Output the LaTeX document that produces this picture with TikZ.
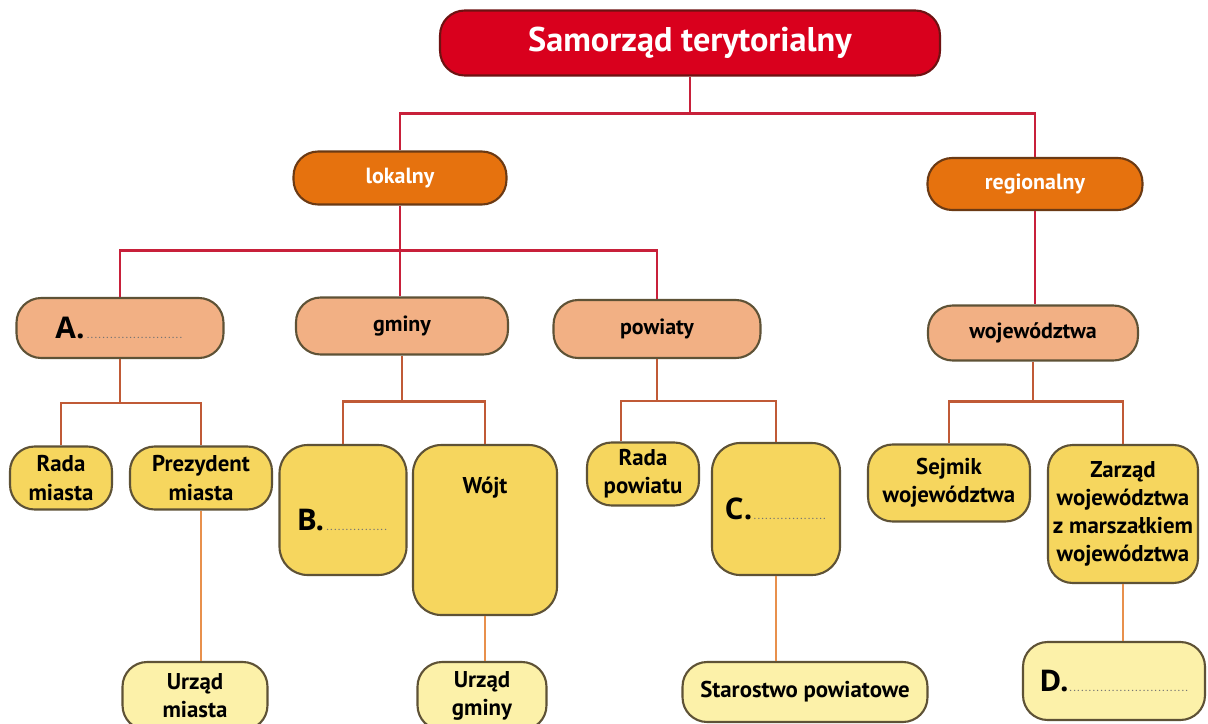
\documentclass[tikz,border=0pt]{standalone}
\usepackage{fontspec}
\setmainfont{PT Sans}
\newfontfamily\letterfont{Open Sans}
\usepackage{xcolor}
\definecolor{titlered}{HTML}{D9001D}
\definecolor{titleline}{HTML}{6E1212}
\definecolor{kindorange}{HTML}{E6720E}
\definecolor{kindline}{HTML}{6B3A14}
\definecolor{unitsalmon}{HTML}{F2B084}
\definecolor{organyellow}{HTML}{F6D65E}
\definecolor{officeyellow}{HTML}{FCF1A9}
\definecolor{boxline}{HTML}{5E5236}
\definecolor{linkred}{HTML}{C8203A}
\definecolor{linkbrown}{HTML}{C05A36}
\definecolor{linkorange}{HTML}{E8904C}
\tikzset{
    any-box/.style = {draw=boxline, line width=1.2pt, rectangle, rounded corners=14pt, inner sep=2pt, align=center, font=\bfseries\fontsize{13}{16}\selectfont},
    title-box/.style = {any-box, draw=titleline, fill=titlered, text=white, font=\bfseries\fontsize{19.5}{21}\selectfont},
    kind-box/.style = {any-box, draw=kindline, fill=kindorange, text=white, font=\bfseries\fontsize{12.5}{14}\selectfont},
    unit-box/.style = {any-box, fill=unitsalmon, font=\bfseries\fontsize{12.5}{14}\selectfont},
    organ-box/.style = {any-box, fill=organyellow},
    office-box/.style = {any-box, fill=officeyellow},
    red-link/.style = {draw=linkred, line width=1.3pt},
    brown-link/.style = {draw=linkbrown, line width=1.3pt},
    orange-link/.style = {draw=linkorange, line width=1.3pt},
}
\newcommand\blank[2]{{\letterfont\bfseries\fontsize{17}{17}\selectfont #1}{\color{black!55}\tiny\makebox[#2]{\dotfill}}}

\begin{document}
\begin{tikzpicture}[x=0.02cm, y=-0.02cm]
\useasboundingbox[fill=white] (0,0) rectangle (1208,724);

% top levels
\node[title-box, minimum width=10cm, minimum height=1.3cm] (samorzad) at (690,43) {Samorząd terytorialny};
\node[kind-box, minimum width=4.26cm, minimum height=1.06cm] (lokalny) at (400,178) {lokalny};
\node[kind-box, minimum width=4.3cm, minimum height=1.04cm] (regionalny) at (1035,184) {regionalny};

\node[unit-box, minimum width=4.14cm, minimum height=1.2cm] (miasta) at (120,328) {\blank{A.}{2cm}};
\node[unit-box, minimum width=4.24cm, minimum height=1.14cm] (gminy) at (402,326) {gminy};
\node[unit-box, minimum width=4.14cm, minimum height=1.16cm] (powiaty) at (657,329) {powiaty};
\node[unit-box, minimum width=4.2cm, minimum height=1.1cm] (wojewodztwa) at (1033,333) {województwa};

% organs
\node[organ-box, minimum width=2.04cm, minimum height=1.26cm] (radamiasta) at (61,478) {Rada\\miasta};
\node[organ-box, minimum width=2.84cm, minimum height=1.26cm] (prezydent) at (201,478) {Prezydent\\miasta};
\node[organ-box, minimum width=2.54cm, minimum height=2.6cm, rounded corners=16pt, text height=0.8cm, text depth=0pt] (radagminy) at (343,510) {\blank{B.}{1.3cm}};
\node[organ-box, minimum width=2.88cm, minimum height=3.4cm, rounded corners=16pt, text depth=1.8cm] (wojt) at (485,530) {Wójt};
\node[organ-box, minimum width=2.24cm, minimum height=1.26cm] (radapowiatu) at (643,474) {Rada\\powiatu};
\node[organ-box, minimum width=2.56cm, minimum height=2.64cm, rounded corners=16pt] (starosta) at (776,509) {\blank{C.}{1.5cm}};
\node[organ-box, minimum width=3.24cm, minimum height=1.54cm] (sejmik) at (949,483) {Sejmik\\województwa};
\node[organ-box, minimum width=3cm, minimum height=2.76cm] (zarzad) at (1123,514) {Zarząd\\województwa\\z marszałkiem\\województwa};

% offices
\node[office-box, minimum width=2.9cm, minimum height=1.36cm] (urzadmiasta) at (195,696) {Urząd\\miasta};
\node[office-box, minimum width=2.58cm, minimum height=1.36cm] (urzadgminy) at (482,696) {Urząd\\gminy};
\node[office-box, minimum width=4.9cm, minimum height=1.2cm] (starostwo) at (805,692) {Starostwo powiatowe};
\node[office-box, minimum width=3.64cm, minimum height=1.56cm] (urzadmarsz) at (1114,681) {\blank{D.}{2.4cm}};

% links
\draw[red-link] (samorzad.south) -- ++(0,37) coordinate (top-split);
\draw[red-link] (lokalny.north) |- (top-split) -| (regionalny.north);
\draw[red-link] (lokalny.south) -- (lokalny.south |- gminy.north);
\path (lokalny.south) ++(0,45) coordinate (local-split);
\draw[red-link] (miasta.north) |- (local-split) -| (powiaty.north);
\draw[red-link] (regionalny.south) -- (regionalny.south |- wojewodztwa.north);

\draw[brown-link] (miasta.south) -- ++(0,44) coordinate (a-split);
\draw[brown-link] (radamiasta.north) |- (a-split) -| (prezydent.north);
\draw[brown-link] (gminy.south) -- ++(0,46) coordinate (b-split);
\draw[brown-link] (radagminy.north) |- (b-split) -| (wojt.north);
\draw[brown-link] (powiaty.south) -- ++(0,42) coordinate (c-split);
\draw[brown-link] ([xshift=-0.44cm]radapowiatu.north) |- (c-split) -| (starosta.north);
\draw[brown-link] (wojewodztwa.south) -- ++(0,40) coordinate (d-split);
\draw[brown-link] (sejmik.north) |- (d-split) -| (zarzad.north);

\draw[orange-link] (prezydent.south) -- (prezydent.south |- urzadmiasta.north);
\draw[orange-link] (wojt.south) -- (wojt.south |- urzadgminy.north);
\draw[orange-link] (starosta.south) -- (starosta.south |- starostwo.north);
\draw[orange-link] (zarzad.south) -- (zarzad.south |- urzadmarsz.north);
\end{tikzpicture}
\end{document}
